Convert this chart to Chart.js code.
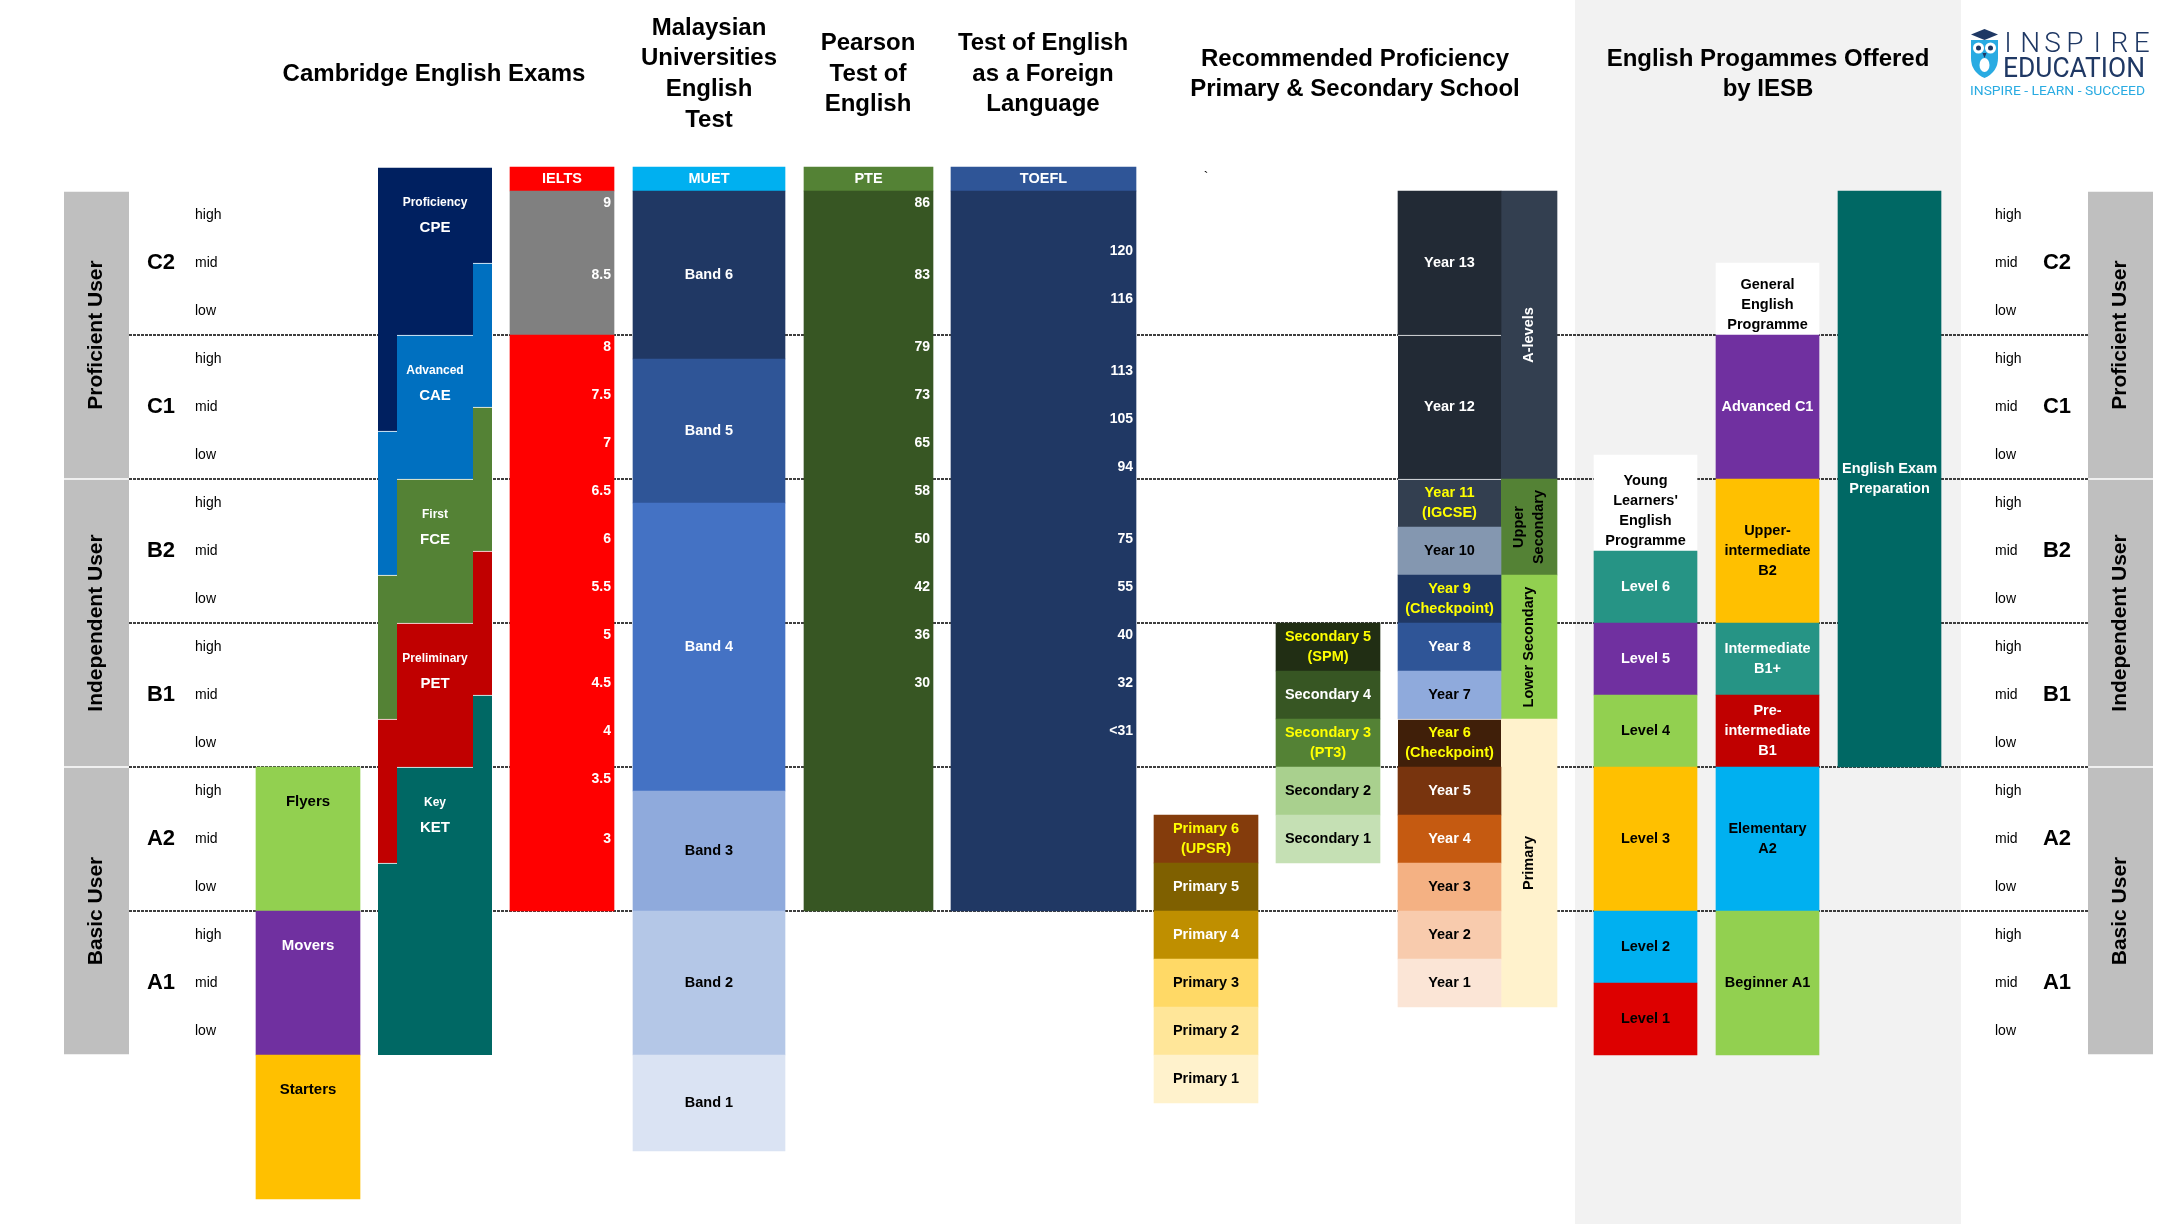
<!DOCTYPE html>
<html>
<head>
<meta charset="utf-8">
<title>English proficiency levels compared (CEFR)</title>
<script src="https://cdn.jsdelivr.net/npm/chart.js"></script>
<style>
  html, body { margin: 0; padding: 0; background: #fff; }
  #wrap { position: relative; width: 2180px; height: 1224px; }
</style>
</head>
<body>
<div id="wrap"><canvas id="myChart"></canvas></div>
<script>
// Partie données
// Value axis = CEFR scale in sub-levels: 0 = bottom of A1, 3 rows (low/mid/high) per level, 18 = top of C2

const cefrLevels = ['C2', 'C1', 'B2', 'B1', 'A2', 'A1'];
const subLevels = ['high', 'mid', 'low'];
const userGroups = ['Proficient User', 'Independent User', 'Basic User'];
const userRanges = [[12, 18], [6, 12], [0, 6]];

const yleNames = ['Flyers', 'Movers', 'Starters'];
const yleRanges = [[3, 6], [0, 3], [-3, 0]];

const cambridgeNames = ['Proficiency', 'Advanced', 'First', 'Preliminary', 'Key'];
const cambridgeCodes = ['CPE', 'CAE', 'FCE', 'PET', 'KET'];
const cambridgeLeft = [[13, 18.5], [10, 13], [7, 10], [4, 7], [0, 4]];
const cambridgeMid = [[15, 18.5], [12, 15], [9, 12], [6, 9], [0, 6]];
const cambridgeRight = [[16.5, 18.5], [13.5, 16.5], [10.5, 13.5], [7.5, 10.5], [0, 7.5]];

const testNames = ['IELTS', 'MUET', 'PTE', 'TOEFL'];
const headerRange = [18, 18.5];
const ieltsRanges = [[15, 18], [3, 15]];
const ieltsScores = ['9', '8.5', '8', '7.5', '7', '6.5', '6', '5.5', '5', '4.5', '4', '3.5', '3'];
const ieltsAt = [17.75, 16.25, 14.75, 13.75, 12.75, 11.75, 10.75, 9.75, 8.75, 7.75, 6.75, 5.75, 4.5];
const muetBands = ['Band 6', 'Band 5', 'Band 4', 'Band 3', 'Band 2', 'Band 1'];
const muetRanges = [[14.5, 18], [11.5, 14.5], [5.5, 11.5], [3, 5.5], [0, 3], [-2, 0]];
const pteRange = [3, 18];
const pteScores = ['86', '83', '79', '73', '65', '58', '50', '42', '36', '30'];
const pteAt = [17.75, 16.25, 14.75, 13.75, 12.75, 11.75, 10.75, 9.75, 8.75, 7.75];
const toeflRange = [3, 18];
const toeflScores = ['120', '116', '113', '105', '94', '75', '55', '40', '32', '<31'];
const toeflAt = [16.75, 15.75, 14.25, 13.25, 12.25, 10.75, 9.75, 8.75, 7.75, 6.75];

const primaryNames = ['Primary 6\n(UPSR)', 'Primary 5', 'Primary 4', 'Primary 3', 'Primary 2', 'Primary 1'];
const primaryRanges = [[4, 5], [3, 4], [2, 3], [1, 2], [0, 1], [-1, 0]];
const secondaryNames = ['Secondary 5\n(SPM)', 'Secondary 4', 'Secondary 3\n(PT3)', 'Secondary 2', 'Secondary 1'];
const secondaryRanges = [[8, 9], [7, 8], [6, 7], [5, 6], [4, 5]];
const yearNames = ['Year 13', 'Year 12', 'Year 11\n(IGCSE)', 'Year 10', 'Year 9\n(Checkpoint)', 'Year 8', 'Year 7',
  'Year 6\n(Checkpoint)', 'Year 5', 'Year 4', 'Year 3', 'Year 2', 'Year 1'];
const yearRanges = [[15, 18], [12, 15], [11, 12], [10, 11], [9, 10], [8, 9], [7, 8], [6, 7], [5, 6], [4, 5], [3, 4], [2, 3], [1, 2]];
const stageNames = ['A-levels', 'Upper\nSecondary', 'Lower Secondary', 'Primary'];
const stageRanges = [[12, 18], [10, 12], [7, 10], [1, 7]];

const youngNames = ["Young\nLearners'\nEnglish\nProgramme", 'Level 6', 'Level 5', 'Level 4', 'Level 3', 'Level 2', 'Level 1'];
const youngRanges = [[10.5, 12.5], [9, 10.5], [7.5, 9], [6, 7.5], [3, 6], [1.5, 3], [0, 1.5]];
const generalNames = ['General\nEnglish\nProgramme', 'Advanced C1', 'Upper-\nintermediate\nB2', 'Intermediate\nB1+',
  'Pre-\nintermediate\nB1', 'Elementary\nA2', 'Beginner A1'];
const generalRanges = [[15, 16.5], [12, 15], [9, 12], [7.5, 9], [6, 7.5], [3, 6], [0, 3]];
const prepNames = ['English Exam\nPreparation'];
const prepRanges = [[6, 18]];

// Fin des données

// Couleurs
const FONT = '"Liberation Sans", Arial, Helvetica, sans-serif';
const groupColor = '#BFBFBF';
const yleColors = ['#92D050', '#7030A0', '#FFC000'];
const yleText = ['#000', '#fff', '#000'];
const cambridgeColors = ['#002060', '#0070C0', '#548235', '#C00000', '#006864'];
const headerColors = ['#FF0000', '#00B0F0', '#548235', '#2F5597'];
const ieltsColors = ['#808080', '#FF0000'];
const muetColors = ['#203864', '#2F5597', '#4472C4', '#8FAADC', '#B4C7E7', '#DAE3F3'];
const muetText = ['#fff', '#fff', '#fff', '#000', '#000', '#000'];
const pteColor = '#375623';
const toeflColor = '#203864';
const primaryColors = ['#843C0C', '#7F6000', '#BF8F00', '#FFD966', '#FFE699', '#FFF2CC'];
const primaryText = ['#FFFF00', '#fff', '#fff', '#000', '#000', '#000'];
const secondaryColors = ['#212E14', '#375623', '#548235', '#A9D08E', '#C5E0B4'];
const secondaryText = ['#FFFF00', '#fff', '#FFFF00', '#000', '#000'];
const yearColors = ['#222A35', '#222A35', '#333F50', '#8497B0', '#203864', '#2F5597', '#8FAADC',
  '#401F09', '#78340E', '#C55A11', '#F4B183', '#F8CBAD', '#FBE5D6'];
const yearText = ['#fff', '#fff', '#FFFF00', '#000', '#FFFF00', '#fff', '#000', '#FFFF00', '#fff', '#fff', '#000', '#000', '#000'];
const yearSeparators = [0, 1, 1, 0, 0, 0, 0, 1, 0, 0, 0, 0, 0];
const stageColors = ['#333F50', '#548235', '#92D050', '#FFF2CC'];
const stageText = ['#fff', '#000', '#000', '#000'];
const youngColors = ['#FFFFFF', '#269485', '#7030A0', '#92D050', '#FFC000', '#00B0F0', '#DD0000'];
const youngText = ['#000', '#fff', '#fff', '#000', '#000', '#000', '#000'];
const generalColors = ['#FFFFFF', '#7030A0', '#FFC000', '#269485', '#C00000', '#00B0F0', '#92D050'];
const generalText = ['#000', '#fff', '#000', '#fff', '#fff', '#000', '#000'];
const prepColor = '#006864';

// Mise en page : bords des colonnes en unités de l'axe x (0..2180)
const layout = {
  groupL: [64, 129], groupR: [2088, 2153],
  yle: [256, 360],
  camL: [378, 397], camM: [397, 473], camR: [473, 492],
  ielts: [510, 614], muet: [633, 785], pte: [804, 933], toefl: [951, 1136],
  primary: [1154, 1258], secondary: [1276, 1380], year: [1398, 1501], stage: [1501, 1557],
  young: [1594, 1697], general: [1716, 1819], prep: [1838, 1941],
  panel: [1575, 1961]
};

const titles = [
  { text: 'Cambridge English Exams', x: 434, y: 74 },
  { text: 'Malaysian\nUniversities\nEnglish\nTest', x: 709, y: 74, clip: 128 },
  { text: 'Pearson\nTest of\nEnglish', x: 868, y: 74 },
  { text: 'Test of English\nas a Foreign\nLanguage', x: 1043, y: 74 },
  { text: 'Recommended Proficiency\nPrimary & Secondary School', x: 1355, y: 74.5 },
  { text: 'English Progammes Offered\nby IESB', x: 1768, y: 74.5 }
];

function column(key, ranges, colors, more) {
  const [l, r] = layout[key];
  return Object.assign({
    data: ranges.map(v => ({ x: (l + r) / 2, y: v })),
    backgroundColor: colors,
    barThickness: r - l,
    grouped: false,
    borderWidth: 0,
    borderSkipped: false
  }, more || {});
}

const whiteTop = { borderColor: '#fff', borderWidth: { top: 1 } };

const datasets = [
  column('groupL', userRanges, groupColor, { borderColor: '#fff', borderWidth: { top: 1, bottom: 1 },
    texts: userGroups, textColors: '#000', textMode: 'rotate', textFont: 'bold 21px ' + FONT }),
  column('groupR', userRanges, groupColor, { borderColor: '#fff', borderWidth: { top: 1, bottom: 1 },
    texts: userGroups, textColors: '#000', textMode: 'rotate', textFont: 'bold 21px ' + FONT }),
  column('yle', yleRanges, yleColors, { texts: yleNames, textColors: yleText, textMode: 'top', textFont: 'bold 15px ' + FONT }),
  column('camL', cambridgeLeft, cambridgeColors, whiteTop),
  column('camM', cambridgeMid, cambridgeColors, Object.assign({ texts: cambridgeNames, codes: cambridgeCodes,
    textColors: '#fff', textMode: 'cambridge' }, whiteTop)),
  column('camR', cambridgeRight, cambridgeColors, whiteTop),
  column('ielts', [headerRange].concat(ieltsRanges), [headerColors[0]].concat(ieltsColors),
    { texts: [testNames[0]], textColors: '#fff', ticksText: ieltsScores, ticksAt: ieltsAt }),
  column('muet', [headerRange].concat(muetRanges), [headerColors[1]].concat(muetColors),
    { texts: [testNames[1]].concat(muetBands), textColors: ['#fff'].concat(muetText) }),
  column('pte', [headerRange, pteRange], [headerColors[2], pteColor],
    { texts: [testNames[2]], textColors: '#fff', ticksText: pteScores, ticksAt: pteAt }),
  column('toefl', [headerRange, toeflRange], [headerColors[3], toeflColor],
    { texts: [testNames[3]], textColors: '#fff', ticksText: toeflScores, ticksAt: toeflAt }),
  column('primary', primaryRanges, primaryColors, { texts: primaryNames, textColors: primaryText }),
  column('secondary', secondaryRanges, secondaryColors, { texts: secondaryNames, textColors: secondaryText }),
  column('year', yearRanges, yearColors, { texts: yearNames, textColors: yearText, borderColor: '#fff',
    borderWidth: yearSeparators.map(s => ({ top: s })) }),
  column('stage', stageRanges, stageColors, { texts: stageNames, textColors: stageText, textMode: 'rotate' }),
  column('young', youngRanges, youngColors, { texts: youngNames, textColors: youngText, headerFirst: true }),
  column('general', generalRanges, generalColors, { texts: generalNames, textColors: generalText, headerFirst: true }),
  column('prep', prepRanges, prepColor, { texts: prepNames, textColors: '#fff' })
];

function pick(v, i) { return Array.isArray(v) ? v[i] : v; }

function multiline(ctx, text, x, y, lh) {
  const lines = String(text).split('\n');
  const y0 = y - (lines.length - 1) * lh / 2;
  lines.forEach((ln, i) => ctx.fillText(ln, x, y0 + i * lh));
}

function fitText(ctx, text, left, right, base, font) {
  ctx.save();
  ctx.font = font;
  ctx.textAlign = 'left';
  ctx.textBaseline = 'alphabetic';
  const w = ctx.measureText(text).width;
  ctx.translate(left, base);
  ctx.scale((right - left) / w, 1);
  ctx.fillText(text, 0, 0);
  ctx.restore();
}

function drawLogo(ctx) {
  ctx.save();
  // owl
  ctx.fillStyle = '#29ABE2';
  ctx.beginPath();
  ctx.moveTo(1971, 40); ctx.lineTo(1998, 40); ctx.lineTo(1998, 58);
  ctx.quadraticCurveTo(1998, 72, 1984.5, 78);
  ctx.quadraticCurveTo(1971, 72, 1971, 58);
  ctx.closePath(); ctx.fill();
  ctx.fillStyle = '#fff';
  [1978.5, 1990.5].forEach(cx => { ctx.beginPath(); ctx.arc(cx, 48, 5.5, 0, Math.PI * 2); ctx.fill(); });
  ctx.beginPath(); ctx.ellipse(1984.5, 65, 5, 7, 0, 0, Math.PI * 2); ctx.fill();
  ctx.fillStyle = '#1F3864';
  [1978.5, 1990.5].forEach(cx => { ctx.beginPath(); ctx.arc(cx, 48, 2.5, 0, Math.PI * 2); ctx.fill(); });
  ctx.beginPath(); ctx.moveTo(1982.5, 53); ctx.lineTo(1986.5, 53); ctx.lineTo(1984.5, 58); ctx.closePath(); ctx.fill();
  ctx.beginPath();
  ctx.moveTo(1984.5, 29); ctx.lineTo(1998, 34.5); ctx.lineTo(1984.5, 40); ctx.lineTo(1971, 34.5);
  ctx.closePath(); ctx.fill();
  // words
  ctx.fillStyle = '#1F3864';
  ctx.font = '300 28px Roboto, "Open Sans", sans-serif';
  ctx.textAlign = 'center';
  ctx.textBaseline = 'alphabetic';
  'INSPIRE'.split('').forEach((c, i) => ctx.fillText(c, 2008 + i * 22.3, 52));
  fitText(ctx, 'EDUCATION', 2003, 2145, 77, '28px Roboto, "Open Sans", sans-serif');
  ctx.fillStyle = '#29ABE2';
  fitText(ctx, 'INSPIRE - LEARN - SUCCEED', 1970, 2145, 95, '13px Roboto, "Open Sans", sans-serif');
  ctx.restore();
}

const cefrPlugin = {
  id: 'cefr',
  beforeDatasetsDraw(chart) {
    const { ctx, scales: { x, y } } = chart;
    ctx.save();
    const pl = x.getPixelForValue(layout.panel[0]);
    const pr = x.getPixelForValue(layout.panel[1]);
    ctx.fillStyle = '#F2F2F2';
    ctx.fillRect(pl, 0, pr - pl, chart.height);
    // dotted lines between CEFR levels
    ctx.strokeStyle = '#000';
    ctx.lineWidth = 1.5;
    ctx.setLineDash([3, 1]);
    const x0 = x.getPixelForValue(layout.groupL[1]);
    const x1 = x.getPixelForValue(layout.groupR[0]);
    cefrLevels.slice(1).forEach((_, k) => {
      const py = Math.round(y.getPixelForValue(15 - 3 * k));
      ctx.beginPath(); ctx.moveTo(x0, py); ctx.lineTo(x1, py); ctx.stroke();
    });
    ctx.restore();
  },
  afterDatasetsDraw(chart) {
    const { ctx, scales: { x, y } } = chart;
    ctx.save();
    ctx.textAlign = 'center';
    ctx.textBaseline = 'middle';

    // labels inside the bars
    chart.data.datasets.forEach((ds, di) => {
      const meta = chart.getDatasetMeta(di);
      if (ds.texts) {
        meta.data.forEach((bar, i) => {
          const t = ds.texts[i];
          if (!t) return;
          const top = Math.min(bar.y, bar.base);
          const bot = Math.max(bar.y, bar.base);
          ctx.fillStyle = pick(ds.textColors, i);
          ctx.font = ds.textFont || 'bold 14.5px ' + FONT;
          if (ds.textMode === 'rotate') {
            ctx.save();
            ctx.translate(bar.x, (top + bot) / 2);
            ctx.rotate(-Math.PI / 2);
            multiline(ctx, t, 0, 0, 20);
            ctx.restore();
          } else if (ds.textMode === 'cambridge') {
            ctx.font = 'bold 12px ' + FONT;
            ctx.fillText(t, bar.x, top + 36);
            ctx.font = 'bold 15px ' + FONT;
            ctx.fillText(ds.codes[i], bar.x, top + 61);
          } else if (ds.textMode === 'top') {
            ctx.fillText(t, bar.x, top + 35);
          } else if (ds.headerFirst && i === 0) {
            const n = t.split('\n').length;
            multiline(ctx, t, bar.x, bot - 10 - (n - 1) * 10, 20);
          } else {
            multiline(ctx, t, bar.x, (top + bot) / 2, 20);
          }
        });
      }
      if (ds.ticksText) {
        const body = meta.data[meta.data.length - 1];
        const xr = body.x + body.width / 2 - 3;
        ctx.save();
        ctx.textAlign = 'right';
        ctx.fillStyle = '#fff';
        ctx.font = 'bold 14px ' + FONT;
        ds.ticksText.forEach((s, i) => ctx.fillText(s, xr, y.getPixelForValue(ds.ticksAt[i])));
        ctx.restore();
      }
    });

    // CEFR level labels on both sides
    const lx = x.getPixelForValue(161), rx = x.getPixelForValue(2057);
    const lsub = x.getPixelForValue(195), rsub = x.getPixelForValue(1995);
    ctx.fillStyle = '#000';
    cefrLevels.forEach((lv, k) => {
      const mid = 16.5 - 3 * k;
      ctx.font = 'bold 22px ' + FONT;
      ctx.textAlign = 'center';
      ctx.fillText(lv, lx, y.getPixelForValue(mid));
      ctx.fillText(lv, rx, y.getPixelForValue(mid));
      ctx.font = '14px ' + FONT;
      ctx.textAlign = 'left';
      subLevels.forEach((s, j) => {
        const py = y.getPixelForValue(mid + 1 - j);
        ctx.fillText(s, lsub, py);
        ctx.fillText(s, rsub, py);
      });
    });

    // column titles
    ctx.textAlign = 'center';
    ctx.font = 'bold 24px ' + FONT;
    titles.forEach(t => {
      ctx.save();
      if (t.clip) { ctx.beginPath(); ctx.rect(t.x - 120, 0, 240, t.clip); ctx.clip(); }
      multiline(ctx, t.text, t.x, t.y, 30.7);
      ctx.restore();
    });
    ctx.font = '14px ' + FONT;
    ctx.fillText('`', 1206, 178);

    drawLogo(ctx);
    ctx.restore();
  }
};

const config = {
  type: 'bar',
  data: { datasets: datasets },
  options: {
    responsive: true,
    maintainAspectRatio: false,
    animation: false,
    events: [],
    layout: { padding: 0 },
    plugins: {
      legend: { display: false },
      tooltip: { enabled: false },
      title: { display: false }
    },
    scales: {
      x: { type: 'linear', display: false, min: 0, max: 2180, offset: false },
      y: { type: 'linear', display: false, min: -169 / 48, max: 1055 / 48 }
    }
  },
  plugins: [cefrPlugin]
};

var myChart = new Chart(document.getElementById('myChart'), config);
</script>
</body>
</html>
